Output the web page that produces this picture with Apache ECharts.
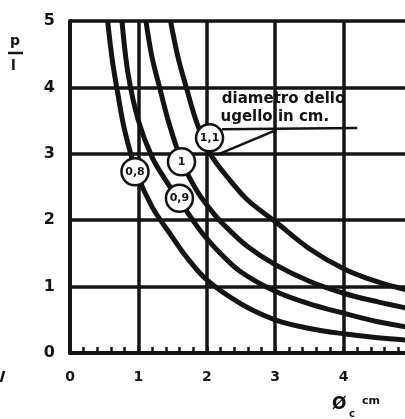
<!DOCTYPE html>
<html><head><meta charset="utf-8">
<script src="https://cdn.jsdelivr.net/npm/echarts@6/dist/echarts.min.js"></script>
<style>html,body{margin:0;padding:0;background:#fff}#c{width:405px;height:419px}</style>
</head><body><div id="c"></div>
<script>
// ---- data ----
const xTickLabels = ['0','1','2','3','4'];
const yTickLabels = ['0','1','2','3','4','5'];
const curveNames = ['0,8','0,9','1','1,1'];
const curve08_x = [0.55,0.62,0.70,0.80,0.97,1.20,1.46,1.70,2.00,2.50,3.00,3.50,4.00,4.50,5.00];
const curve08_y = [5.00,4.40,3.90,3.35,2.73,2.20,1.80,1.45,1.10,0.74,0.50,0.37,0.29,0.23,0.19];
const curve09_x = [0.76,0.85,1.00,1.20,1.40,1.60,1.90,2.20,2.50,3.00,3.50,4.00,4.50,5.00];
const curve09_y = [5.00,4.20,3.50,2.95,2.60,2.30,1.85,1.50,1.22,0.93,0.74,0.60,0.47,0.38];
const curve10_x = [1.11,1.20,1.31,1.45,1.63,1.85,2.10,2.33,2.60,3.00,3.50,4.00,4.50,5.00];
const curve10_y = [5.00,4.45,4.00,3.45,2.90,2.45,2.10,1.85,1.60,1.33,1.08,0.90,0.77,0.66];
const curve11_x = [1.47,1.58,1.70,1.86,2.05,2.30,2.60,3.00,3.50,4.00,4.50,5.00];
const curve11_y = [5.00,4.45,4.00,3.45,3.00,2.65,2.30,1.98,1.57,1.27,1.07,0.93];
// circle tags (data coordinates)
const tagText = ['0,8','0,9','1','1,1'];
const tagX = [0.95,1.60,1.63,2.04];
const tagY = [2.73,2.33,2.88,3.24];
const noteLines = ['diametro dello','ugello in cm.'];
const yAxisTitle = ['p','l'];
const xAxisTitle = 'Ø';
const xAxisSub = 'c';
const xAxisUnit = 'cm';

const INK = '#141414';
const FONT = 'DejaVu Sans';
const chart = echarts.init(document.getElementById('c'), null, {renderer:'canvas'});

function pairs(xs, ys){ return xs.map((x,i)=>[x, ys[i]]); }
const curves = [[curve08_x,curve08_y],[curve09_x,curve09_y],[curve10_x,curve10_y],[curve11_x,curve11_y]];

const series = curves.map((c,i)=>({
  type:'line', name:curveNames[i], data:pairs(c[0],c[1]), smooth:0.35,
  symbol:'none', lineStyle:{color:INK, width:5}, z:3, silent:true, animation:false
}));
series.push({
  type:'scatter', data: tagText.map((t,i)=>({value:[tagX[i],tagY[i]], name:t})),
  symbolSize:27, z:5, animation:false, silent:true,
  itemStyle:{color:'#fff', borderColor:INK, borderWidth:2.5, opacity:1},
  label:{show:true, position:'inside', formatter:p=>p.name, color:INK,
         fontFamily:FONT, fontWeight:'bold', fontSize:11}
});

chart.setOption({
  backgroundColor:'#fff',
  animation:false,
  grid:{left:70, right:-7, top:21, bottom:66, containLabel:false, outerBoundsMode:'none'},
  xAxis:{type:'value', min:0, max:5, interval:1,
    axisLine:{show:true, onZero:false, lineStyle:{color:INK, width:4}},
    axisTick:{show:true, inside:true, length:6, lineStyle:{color:INK, width:2.5}},
    minorTick:{show:true, splitNumber:5, length:6, lineStyle:{color:INK, width:2.5}},
    splitLine:{show:true, lineStyle:{color:INK, width:3.5}},
    axisLabel:{color:INK, fontFamily:FONT, fontWeight:'bold', fontSize:14, margin:17,
      formatter:v=>{const i=Math.round(v); return (Math.abs(v-i)<1e-6 && i<xTickLabels.length)?xTickLabels[i]:'';}}
  },
  yAxis:{type:'value', min:0, max:5, interval:1,
    axisLine:{show:true, onZero:false, lineStyle:{color:INK, width:4}},
    axisTick:{show:false},
    splitLine:{show:true, lineStyle:{color:INK, width:3.5}},
    axisLabel:{color:INK, fontFamily:FONT, fontWeight:'bold', fontSize:16, margin:15,
      formatter:v=>{const i=Math.round(v); return yTickLabels[i]||'';}}
  },
  series
});

// annotations placed through the chart's coordinate system
const P = (x,y)=>chart.convertToPixel({gridIndex:0},[x,y]);
const t1 = P(2.22,3.80), t2 = P(2.20,3.53);
const u0 = P(2.22,3.37), u1 = P(4.20,3.39);
const l0 = P(2.14,2.98), l1 = P(3.02,3.36);
const g = [
  {type:'text', left:t1[0], top:t1[1]-9, style:{text:noteLines[0], fill:INK, font:'bold 15px "DejaVu Sans"'}},
  {type:'text', left:t2[0], top:t2[1]-9, style:{text:noteLines[1], fill:INK, font:'bold 15px "DejaVu Sans"'}},
  {type:'line', shape:{x1:u0[0],y1:u0[1],x2:u1[0],y2:u1[1]}, style:{stroke:INK, lineWidth:2.5}, z:4},
  {type:'line', shape:{x1:l0[0],y1:l0[1],x2:l1[0],y2:l1[1]}, style:{stroke:INK, lineWidth:2.5}, z:4},
  {type:'text', left:10, top:34, style:{text:yAxisTitle[0], fill:INK, font:'bold 14px "DejaVu Sans"'}},
  {type:'line', shape:{x1:8,y1:53,x2:23,y2:53}, style:{stroke:INK, lineWidth:2.5}},
  {type:'text', left:11, top:59, style:{text:yAxisTitle[1], fill:INK, font:'bold 14px "DejaVu Sans"'}},
  {type:'text', left:332, top:396, style:{text:xAxisTitle, fill:INK, font:'bold 17px "DejaVu Sans"'}},
  {type:'text', left:349, top:409, style:{text:xAxisSub, fill:INK, font:'bold 10px "DejaVu Sans"'}},
  {type:'text', left:362, top:396, style:{text:xAxisUnit, fill:INK, font:'bold 11px "DejaVu Sans"'}},
  {type:'line', shape:{x1:4,y1:371,x2:1,y2:382}, style:{stroke:INK, lineWidth:2.5}}
];
chart.setOption({graphic:g});
</script></body></html>
